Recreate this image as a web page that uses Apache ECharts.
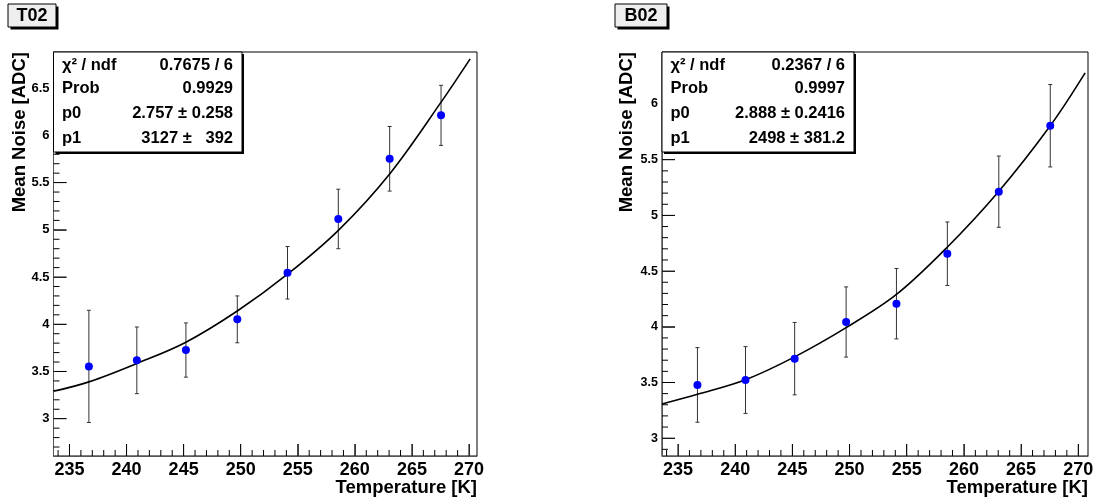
<!DOCTYPE html>
<html>
<head>
<meta charset="utf-8">
<script src="https://cdn.jsdelivr.net/npm/echarts@6/dist/echarts.min.js"></script>
<style>
html,body{margin:0;padding:0;background:#fff;}
#wrap{position:relative;width:1097px;height:504px;}
.pane{position:absolute;left:0;top:0;width:1097px;height:504px;}
</style>
</head>
<body>
<div id="wrap"><div id="c0" class="pane"></div><div id="c1" class="pane"></div></div>
<script>
// ---- data ----
const temps = [236.7, 240.9, 245.2, 249.7, 254.1, 258.55, 263.05, 267.55];
const noiseT02 = [3.554, 3.618, 3.727, 4.052, 4.545, 5.115, 5.752, 6.212];
const errT02 = [0.594, 0.353, 0.287, 0.248, 0.278, 0.315, 0.342, 0.318];
const noiseB02 = [3.478, 3.522, 3.714, 4.043, 4.207, 4.656, 5.213, 5.805];
const errB02 = [0.335, 0.300, 0.325, 0.315, 0.316, 0.285, 0.320, 0.370];
// fit curves
const fitT02T = [233.6, 236.7, 240.9, 245.2, 249.7, 254.1, 258.6, 263.1, 267.6, 270.1];
const fitT02V = [3.29, 3.39, 3.585, 3.81, 4.14, 4.53, 5.0, 5.60, 6.36, 6.81];
const fitB02T = [233.6, 236.7, 240.9, 245.2, 249.7, 254.1, 258.5, 263.0, 267.55, 270.6];
const fitB02V = [3.307, 3.394, 3.525, 3.73, 3.992, 4.29, 4.71, 5.21, 5.805, 6.28];
// tick labels
const xTicks = [235, 240, 245, 250, 255, 260, 265, 270];
const yTicksT02 = [3, 3.5, 4, 4.5, 5, 5.5, 6, 6.5];
const yTicksB02 = [3, 3.5, 4, 4.5, 5, 5.5, 6];
// texts
const panelTitles = ['T02', 'B02'];
const xTitle = 'Temperature [K]';
const yTitle = 'Mean Noise [ADC]';
const statsLabels = ['χ² / ndf', 'Prob', 'p0', 'p1'];
const statsT02 = ['0.7675 / 6', '0.9929', '2.757 ± 0.258', '3127 ±   392'];
const statsB02 = ['0.2367 / 6', '0.9997', '2.888 ± 0.2416', '2498 ± 381.2'];

// ---- layout ----
const FONT = "'Liberation Sans', Arial, Helvetica, sans-serif";
const panels = [
  {left: 53.5, top: 52, width: 423.5, height: 404, xmin: 233.6, xmax: 270.7, ymin: 2.605, ymax: 6.883,
   yTicks: yTicksT02, noise: noiseT02, err: errT02, fitT: fitT02T, fitV: fitT02V, stats: statsT02,
   titleBox: {x: 8, y: 4, w: 48, h: 23}, yTitleX: 20, statW: 188.5, yLabelSize: 13},
  {left: 662, top: 52, width: 426, height: 404, xmin: 233.6, xmax: 270.85, ymin: 2.84, ymax: 6.467,
   yTicks: yTicksB02, noise: noiseB02, err: errB02, fitT: fitB02T, fitV: fitB02V, stats: statsB02,
   titleBox: {x: 615, y: 4, w: 52, h: 23}, yTitleX: 627, statW: 192, yLabelSize: 12.5}
];

function steps(a, b, step) {
  const out = [];
  for (let k = Math.ceil(a / step - 1e-9); k * step <= b + 1e-9; k++) out.push(Math.round(k * step * 1000) / 1000);
  return out;
}

panels.forEach((p, i) => {
  const graphics = [];
  const xMinor = steps(p.xmin, p.xmax, 1);
  const yMinor = steps(p.ymin, p.ymax, 0.1);
  // tick table: [x, y, length, orientation(0 = vertical on x axis, 1 = horizontal on y axis)]
  const tickData = [];
  xMinor.forEach(v => tickData.push([v, p.ymin, xTicks.indexOf(v) >= 0 ? 12 : 6, 0]));
  yMinor.forEach(v => tickData.push([p.xmin, v, p.yTicks.indexOf(v) >= 0 ? 13 : 6, 1]));

  const xAxis = {type: 'value', min: p.xmin, max: p.xmax,
    axisTick: {show: true, inside: true, length: 12, customValues: xTicks},
    axisLabel: {customValues: xTicks, margin: 5, color: '#000', fontFamily: FONT, fontWeight: 'bold', fontSize: 18},
    splitLine: {show: false}};
  const yAxis = {type: 'value', min: p.ymin, max: p.ymax,
    axisTick: {show: true, inside: true, length: 13, customValues: p.yTicks},
    axisLabel: {customValues: p.yTicks, margin: 4, color: '#000', fontFamily: FONT, fontWeight: 'bold', fontSize: p.yLabelSize},
    splitLine: {show: false}};

  const series = [
    // tick marks, placed through the axis scales
    {type: 'custom', data: tickData, encode: {x: 0, y: 1},
     renderItem: function (params, api) {
       const c = api.coord([api.value(0), api.value(1)]);
       const len = api.value(2);
       const horiz = api.value(3) > 0.5;
       return {type: 'group', children: [{type: 'line',
         shape: horiz ? {x1: c[0], y1: c[1], x2: c[0] + len, y2: c[1]} : {x1: c[0], y1: c[1], x2: c[0], y2: c[1] - len},
         style: {stroke: '#000', lineWidth: 1}}]};
     }},
    // error bars
    {type: 'custom', z: 2, clip: true, silent: true,
     data: temps.map((t, k) => [t, p.noise[k], p.err[k]]),
     encode: {x: 0, y: 1},
     renderItem: function (params, api) {
       const x = api.value(0), y = api.value(1), e = api.value(2);
       const top = api.coord([x, y + e]);
       const bot = api.coord([x, y - e]);
       const w = 2;
       const st = {stroke: '#333', lineWidth: 1};
       return {type: 'group', children: [
         {type: 'line', shape: {x1: top[0], y1: top[1], x2: bot[0], y2: bot[1]}, style: st},
         {type: 'line', shape: {x1: top[0] - w, y1: top[1], x2: top[0] + w, y2: top[1]}, style: st},
         {type: 'line', shape: {x1: bot[0] - w, y1: bot[1], x2: bot[0] + w, y2: bot[1]}, style: st}
       ]};
     }},
    // fit curve
    {type: 'line', z: 3, data: p.fitT.map((t, k) => [t, p.fitV[k]]),
     showSymbol: false, smooth: 0.35, lineStyle: {color: '#000', width: 1.6}, silent: true},
    // points
    {type: 'scatter', z: 4, data: temps.map((t, k) => [t, p.noise[k]]),
     symbol: 'circle', symbolSize: 8, itemStyle: {color: '#0000ff', opacity: 1}}
  ];

  // panel title box
  const tb = p.titleBox;
  graphics.push({type: 'rect', z: 10, shape: {x: tb.x + 2.5, y: tb.y + 2.5, width: tb.w, height: tb.h}, style: {fill: '#000'}});
  graphics.push({type: 'rect', z: 11, shape: {x: tb.x, y: tb.y, width: tb.w, height: tb.h}, style: {fill: '#eeeeee', stroke: '#000', lineWidth: 1}});
  graphics.push({type: 'text', z: 12, x: tb.x + tb.w / 2, y: tb.y + tb.h / 2 + 0.5,
    style: {text: panelTitles[i], font: 'bold 18px ' + FONT, fill: '#000', align: 'center', verticalAlign: 'middle'}});
  // axis titles
  graphics.push({type: 'text', z: 12, x: p.left + p.width, y: 488,
    style: {text: xTitle, font: 'bold 18.5px ' + FONT, fill: '#000', align: 'right', verticalAlign: 'middle'}});
  graphics.push({type: 'text', z: 12, x: p.yTitleX, y: p.top, rotation: Math.PI / 2,
    style: {text: yTitle, font: 'bold 18.5px ' + FONT, fill: '#000', align: 'right', verticalAlign: 'middle'}});
  // stats box
  const sx = p.left, sy = p.top, sw = p.statW, sh = 100;
  graphics.push({type: 'rect', z: 20, shape: {x: sx + 2, y: sy + 2, width: sw, height: sh}, style: {fill: '#000'}});
  graphics.push({type: 'rect', z: 21, shape: {x: sx, y: sy, width: sw, height: sh}, style: {fill: '#fff', stroke: '#000', lineWidth: 1}});
  const rows = [65, 88.5, 113, 138];
  statsLabels.forEach((lab, k) => {
    graphics.push({type: 'text', z: 22, x: sx + 8.5, y: rows[k],
      style: {text: lab, font: 'bold 16.5px ' + FONT, fill: '#000', align: 'left', verticalAlign: 'middle'}});
    graphics.push({type: 'text', z: 22, x: sx + sw - 9, y: rows[k],
      style: {text: p.stats[k], font: 'bold 16.5px ' + FONT, fill: '#000', align: 'right', verticalAlign: 'middle'}});
  });

  const chart = echarts.init(document.getElementById('c' + i), null, {renderer: 'canvas'});
  chart.setOption({
    animation: false,
    grid: {left: p.left, top: p.top, width: p.width, height: p.height, show: true, borderColor: '#000'},
    xAxis: xAxis,
    yAxis: yAxis,
    series: series,
    graphic: {elements: graphics}
  });
});
</script>
</body>
</html>
